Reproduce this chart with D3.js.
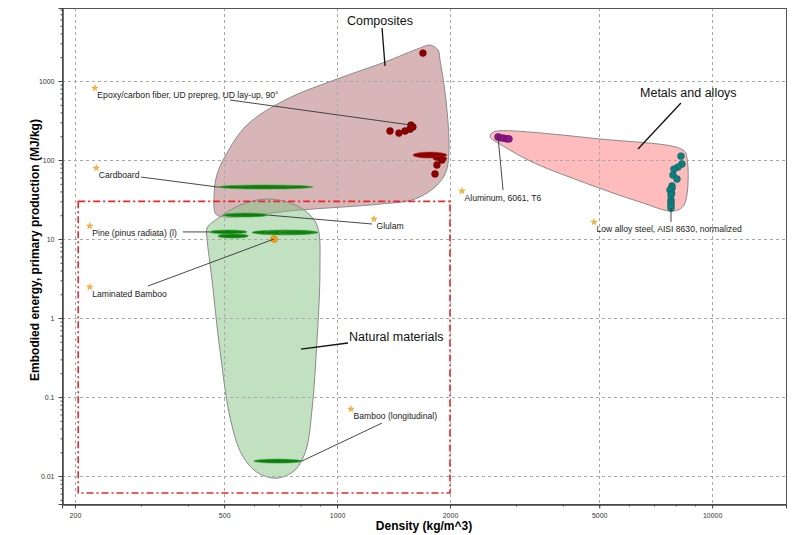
<!DOCTYPE html>
<html>
<head>
<meta charset="utf-8">
<script src="https://cdn.jsdelivr.net/npm/d3@7"></script>
<style>
  body { margin: 0; background: #fff; }
  text { font-family: "Liberation Sans", Arial, sans-serif; }
</style>
</head>
<body>
<svg width="793" height="535"></svg>
<script>
// axis ticks
const densityMajor = [200, 500, 1000, 2000, 5000, 10000];
const energyMajor = [0.01, 0.1, 1, 10, 100, 1000];

// material records: [density, energy] or ranges [dMin, dMax, eMin, eMax]
const compositePoints = [[1694, 2259], [1384, 233], [1462, 219], [1518, 233], [1565, 246],
  [1574, 277], [1593, 262], [1904, 100], [1846, 86.5], [1824, 66.6]];
const compositeRanges = [[1593, 1963, 106, 126], [1802, 1963, 97, 112]];
const aluminumPoints = [[2686, 196], [2730, 191], [2780, 189], [2838, 185], [2873, 185]];
const steelPoints = [[8260, 112], [8310, 89], [8110, 81.5], [7912, 76.9], [7864, 64.6],
  [8060, 57.5], [7816, 46.9], [7816, 44], [7720, 41.7], [7800, 38], [7768, 36],
  [7768, 31.2], [7768, 29], [7768, 26.9], [7768, 24.7]];
const naturalRanges = [[481, 862, 42.9, 48.3], [496, 654, 19.0, 21.3], [458, 575, 11.6, 13.0],
  [481, 580, 10.3, 11.6], [593, 889, 11.3, 13.0], [640, 800, 11.4, 12.8], [700, 870, 11.5, 12.8],
  [600, 806, 0.0146, 0.0164]];
const laminatedBamboo = [679, 10];

// family envelopes (outline in data units)
const compositeEnvelope = [[475, 20.7], [470, 36.1], [478, 64.6], [505, 115.7], [575, 277],
  [726, 575], [1000, 1060], [1342, 1740], [1664, 2617], [1768, 2855], [1858, 2468],
  [1881, 1845], [1951, 575], [1988, 134], [1951, 70.5], [1836, 46.9], [1613, 32.1],
  [1301, 27.7], [796, 23.3], [502, 19.0]];
const metalEnvelope = [[2588, 219.6], [2670, 233], [5024, 184.5], [8361, 134], [8571, 106],
  [8414, 26.9], [7866, 22.6], [6424, 29.4], [4444, 54.2], [3270, 97.1], [2720, 159.4], [2558, 195.5]];
const naturalEnvelope = [[450, 13.8], [487, 19.0], [551, 26.9], [650, 32.1], [763, 27.7],
  [847, 20.1], [889, 13.8], [900, 4.05], [884, 0.527], [857, 0.0684], [826, 0.0213],
  [772, 0.0119], [691, 0.0094], [611, 0.0112], [558, 0.0185], [520, 0.0512], [487, 0.394],
  [464, 3.03], [450, 10.3]];

// annotations
const materialLabels = [
  { text: "Epoxy/carbon fiber, UD prepreg, UD lay-up, 90°", at: [226, 815], from: [518, 575], to: [1574, 277] },
  { text: "Cardboard", at: [228, 79.2], from: [300, 60.9], to: [481, 45.5] },
  { text: "Glulam", at: [1254, 17.9], from: [1239, 15.5], to: [654, 20.1] },
  { text: "Pine (pinus radiata) (l)", at: [219, 14.6], from: [388, 12.3], to: [458, 12.3] },
  { text: "Laminated Bamboo", at: [219, 2.47], from: [313, 2.54], to: [679, 10] },
  { text: "Aluminum, 6061, T6", at: [2153, 40.5], from: [2770, 41.7], to: [2686, 196] },
  { text: "Low alloy steel, AISI 8630, normalized", at: [4842, 16.4], from: [7768, 16.4], to: [7768, 24.7] },
  { text: "Bamboo (longitudinal)", at: [1089, 0.0705], from: [1318, 0.0469], to: [806, 0.0155] }
];
const familyLabels = [
  { text: "Composites", at: [1301, 5115], anchor: "middle", from: [1318, 4688], to: [1342, 1549] },
  { text: "Metals and alloys", at: [6424, 627], anchor: "start", from: [8260, 527], to: [6344, 138] },
  { text: "Natural materials", at: [1076, 0.512], anchor: "start", from: [1069, 0.483], to: [801, 0.405] }
];
const selectionBox = [204, 2000, 0.0061, 30];

const svg = d3.select("svg");
const margin = { top: 8, right: 7, bottom: 31, left: 62 };
const width = +svg.attr("width") - margin.left - margin.right,
      height = +svg.attr("height") - margin.top - margin.bottom;

const x = d3.scaleLog().domain([184.7, 15740]).range([margin.left, margin.left + width]);
const y = d3.scaleLog().domain([0.00443, 8395]).range([margin.top + height, margin.top]);

function minors(scale) {
  const [a, b] = scale.domain();
  const out = [];
  for (let p = Math.floor(Math.log10(a)); p <= Math.ceil(Math.log10(b)); p++) {
    for (let m = 1; m < 10; m++) {
      const v = m * Math.pow(10, p);
      if (v >= a && v <= b) out.push(v);
    }
  }
  return out;
}

const envLine = d3.line().x(d => x(d[0])).y(d => y(d[1])).curve(d3.curveCatmullRomClosed.alpha(0.5));

// envelopes
svg.append("path").attr("d", envLine(compositeEnvelope))
  .attr("fill", "#d8b6b8").attr("stroke", "#8a8a8a").attr("stroke-width", 1);
svg.append("path").attr("d", envLine(metalEnvelope))
  .attr("fill", "#ffbcbc").attr("stroke", "#8a8a8a").attr("stroke-width", 1);
svg.append("path").attr("d", envLine(naturalEnvelope))
  .attr("fill", "#84c484").attr("fill-opacity", 0.5).attr("stroke", "#8a8a8a").attr("stroke-width", 1);

// grid
const grid = svg.append("g").attr("stroke", "#a8a8a8").attr("stroke-dasharray", "3,3").attr("stroke-width", 1);
grid.selectAll(".gx").data(densityMajor).enter().append("line")
  .attr("x1", d => Math.round(x(d)) + 0.5).attr("x2", d => Math.round(x(d)) + 0.5)
  .attr("y1", margin.top).attr("y2", margin.top + height);
grid.selectAll(".gy").data(energyMajor).enter().append("line")
  .attr("y1", d => Math.round(y(d)) + 0.5).attr("y2", d => Math.round(y(d)) + 0.5)
  .attr("x1", margin.left).attr("x2", margin.left + width);

// selection box
svg.append("rect")
  .attr("x", x(selectionBox[0])).attr("y", y(selectionBox[3]))
  .attr("width", x(selectionBox[1]) - x(selectionBox[0]))
  .attr("height", y(selectionBox[2]) - y(selectionBox[3]))
  .attr("fill", "none").attr("stroke", "#e8272b").attr("stroke-width", 1.6)
  .attr("stroke-dasharray", "7,3,2,3");

// frame
svg.append("rect")
  .attr("x", margin.left + 0.5).attr("y", margin.top + 0.5)
  .attr("width", width).attr("height", height)
  .attr("fill", "none").attr("stroke", "#555");

// axes
const xAxisG = svg.append("g").attr("transform", `translate(0,${margin.top + height + 0.5})`);
xAxisG.append("g").call(d3.axisBottom(x).tickValues(minors(x)).tickSize(2).tickFormat(""));
xAxisG.append("g").call(d3.axisBottom(x).tickValues(densityMajor).tickSize(4).tickFormat(d => String(d)));
const yAxisG = svg.append("g").attr("transform", `translate(${margin.left + 0.5},0)`);
yAxisG.append("g").call(d3.axisLeft(y).tickValues(minors(y)).tickSize(2).tickFormat(""));
yAxisG.append("g").call(d3.axisLeft(y).tickValues(energyMajor).tickSize(4).tickFormat(d => String(d)));
svg.selectAll(".domain").attr("stroke", "#444");
svg.selectAll(".tick line").attr("stroke", "#444");
svg.selectAll(".tick text").style("font-size", "7px").attr("fill", "#333")
  .style("font-family", "'Liberation Sans', Arial, sans-serif");
xAxisG.selectAll(".tick text").attr("dy", "0.9em");
yAxisG.selectAll(".tick text").attr("dx", "-1px");

svg.append("text")
  .attr("x", margin.left + width / 2)
  .attr("y", 530)
  .attr("text-anchor", "middle").style("font-size", "12px").style("font-weight", "bold")
  .text("Density (kg/m^3)");
svg.append("text")
  .attr("transform", `translate(39,${margin.top + height / 2 - 6}) rotate(-90)`)
  .attr("text-anchor", "middle").style("font-size", "12px").style("font-weight", "bold")
  .text("Embodied energy, primary production (MJ/kg)");

// ellipses
function ell(g, data, fill, stroke) {
  g.selectAll(null).data(data).enter().append("ellipse")
    .attr("cx", d => (x(d[0]) + x(d[1])) / 2)
    .attr("cy", d => (y(d[2]) + y(d[3])) / 2)
    .attr("rx", d => (x(d[1]) - x(d[0])) / 2)
    .attr("ry", d => Math.max(1.5, (y(d[2]) - y(d[3])) / 2))
    .attr("fill", fill).attr("stroke", stroke).attr("stroke-width", 0.6);
}
function dots(g, data, fill, stroke) {
  g.selectAll(null).data(data).enter().append("circle")
    .attr("cx", d => x(d[0])).attr("cy", d => y(d[1])).attr("r", 3.4)
    .attr("fill", fill).attr("stroke", stroke).attr("stroke-width", 0.6);
}
const marks = svg.append("g");
ell(marks, naturalRanges, "#0b800b", "#3fa03f");
ell(marks, compositeRanges, "#8e0000", "#b03030");
dots(marks, compositePoints, "#8e0000", "#6a0000");
dots(marks, aluminumPoints, "#8a1a8a", "#6a006a");
dots(marks, steelPoints, "#0e8080", "#0a6060");
dots(marks, [laminatedBamboo], "#f4a00c", "#d08000");

// leader lines
svg.selectAll(".lead").data(materialLabels).enter().append("line")
  .attr("x1", d => x(d.from[0])).attr("y1", d => y(d.from[1]))
  .attr("x2", d => x(d.to[0])).attr("y2", d => y(d.to[1]))
  .attr("stroke", "#333").attr("stroke-width", 0.9);
svg.selectAll(".flead").data(familyLabels).enter().append("line")
  .attr("x1", d => x(d.from[0])).attr("y1", d => y(d.from[1]))
  .attr("x2", d => x(d.to[0])).attr("y2", d => y(d.to[1]))
  .attr("stroke", "#111").attr("stroke-width", 1.3);

// material labels with star marker
const star = d3.symbol().type(d3.symbolStar).size(13);
const ml = svg.selectAll(".mlabel").data(materialLabels).enter().append("g")
  .attr("transform", d => `translate(${x(d.at[0])},${y(d.at[1])})`);
ml.append("path").attr("d", star).attr("fill", "#f6b73c").attr("stroke", "#d89010").attr("stroke-width", 0.4);
ml.append("text").attr("x", 2.5).attr("y", 9.5).style("font-size", "8.6px").attr("fill", "#222")
  .text(d => d.text);

svg.selectAll(".flabel").data(familyLabels).enter().append("text")
  .attr("x", d => x(d.at[0])).attr("y", d => y(d.at[1]))
  .attr("text-anchor", d => d.anchor)
  .style("font-size", "12.5px").attr("fill", "#111")
  .text(d => d.text);
</script>
</body>
</html>
